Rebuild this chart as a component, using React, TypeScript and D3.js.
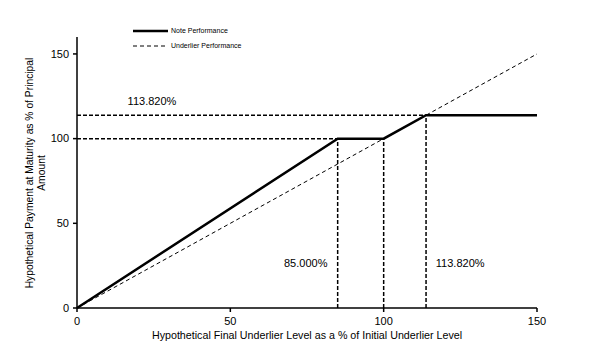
import React from "react";
import * as d3 from "d3";

const noteX = [0, 85, 100, 113.82, 150];
const noteY = [0, 100, 100, 113.82, 113.82];
const underX = [0, 150];
const underY = [0, 150];
const xTicks = [0, 50, 100, 150];
const yTicks = [0, 50, 100, 150];
const hRefs = [
  { y: 113.82, x: 113.82 },
  { y: 100, x: 85 },
];
const vRefs = [
  { x: 85, y: 100 },
  { x: 100, y: 100 },
  { x: 113.82, y: 113.82 },
];
const labels = [
  { text: "113.820%", x: 16.5, y: 120 },
  { text: "85.000%", x: 67.5, y: 24 },
  { text: "113.820%", x: 117, y: 24 },
];
const legendItems = ["Note Performance", "Underlier Performance"];

export default function App() {
  const W = 608, H = 355;
  const x = d3.scaleLinear().domain([0, 150]).range([77, 537]);
  const y = d3.scaleLinear().domain([0, 160]).range([308, 37]);
  const line = d3.line<[number, number]>().x(d => x(d[0])).y(d => y(d[1]));
  const note = noteX.map((v, i) => [v, noteY[i]] as [number, number]);
  const under = underX.map((v, i) => [v, underY[i]] as [number, number]);
  const font = "Liberation Sans, Arial, sans-serif";
  return (
    <svg width={W} height={H} style={{ position: "absolute", left: 0, top: 0, background: "#fff" }} fontFamily={font}>
      <rect width={W} height={H} fill="#fff" />
      {hRefs.map((r, i) => (
        <line key={"h" + i} x1={x(0)} x2={x(r.x)} y1={y(r.y)} y2={y(r.y)} stroke="#000" strokeWidth={1.5} strokeDasharray="4,2" />
      ))}
      {vRefs.map((r, i) => (
        <line key={"v" + i} x1={x(r.x)} x2={x(r.x)} y1={y(0)} y2={y(r.y)} stroke="#000" strokeWidth={1.5} strokeDasharray="4,2" />
      ))}
      <path d={line(under) || ""} fill="none" stroke="#000" strokeWidth={1} strokeDasharray="4,3" />
      <path d={line(note) || ""} fill="none" stroke="#000" strokeWidth={2.5} strokeLinejoin="miter" />
      {/* axes */}
      <line x1={x(0)} x2={x(0)} y1={y(0)} y2={y(160)} stroke="#000" strokeWidth={1.5} />
      <line x1={x(0)} x2={x(150)} y1={y(0)} y2={y(0)} stroke="#000" strokeWidth={1.5} />
      {yTicks.map(t => (
        <g key={"yt" + t}>
          <line x1={x(0) - 4} x2={x(0)} y1={y(t)} y2={y(t)} stroke="#000" strokeWidth={1.5} />
          <text x={x(0) - 8} y={y(t)} dy="0.35em" textAnchor="end" fontSize={11}>{t}</text>
        </g>
      ))}
      {xTicks.map(t => (
        <g key={"xt" + t}>
          <line x1={x(t)} x2={x(t)} y1={y(0)} y2={y(0) + 4} stroke="#000" strokeWidth={1.5} />
          <text x={x(t)} y={y(0) + 17} textAnchor="middle" fontSize={11}>{t}</text>
        </g>
      ))}
      {labels.map((l, i) => (
        <text key={"l" + i} x={x(l.x)} y={y(l.y)} fontSize={11}>{l.text}</text>
      ))}
      <text x={307} y={339} textAnchor="middle" fontSize={10.7}>Hypothetical Final Underlier Level as a % of Initial Underlier Level</text>
      <text transform="translate(33,173) rotate(-90)" textAnchor="middle" fontSize={10.3}>
        <tspan x={0} dy={0}>Hypothetical Payment at Maturity as % of Principal</tspan>
        <tspan x={0} dy={11.5}>Amount</tspan>
      </text>
      {/* legend */}
      {legendItems.map((name, i) => (
        <g key={"lg" + i} transform={`translate(133,${31 + i * 15})`}>
          <line x1={0} x2={35} y1={0} y2={0} stroke="#000" strokeWidth={i === 0 ? 2.5 : 1} strokeDasharray={i === 0 ? undefined : "4,3"} />
          <text x={38} y={0} dy="0.35em" fontSize={7}>{name}</text>
        </g>
      ))}
    </svg>
  );
}
